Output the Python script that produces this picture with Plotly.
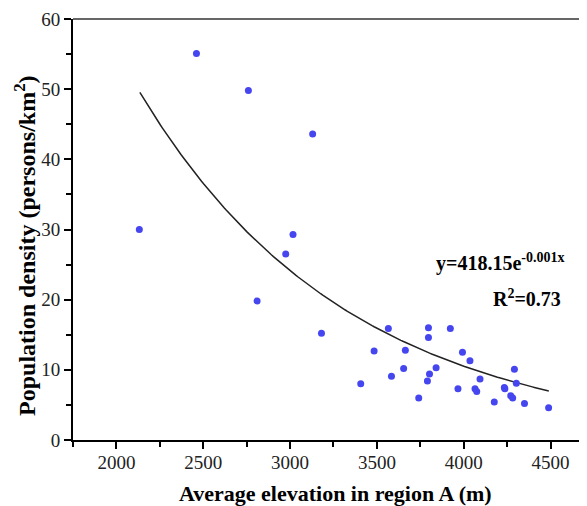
import plotly.graph_objects as go
import numpy as np

elevation = [2132, 2461, 2760, 3130, 3017, 2975, 2810, 3181,
             3566, 3484, 3664, 3654, 3584, 3407, 3797, 3797, 3923, 3841,
             3803, 3791, 3741, 3993, 4036, 3967, 4065, 4075, 4094, 4176,
             4234, 4237, 4292, 4303, 4271, 4282, 4350, 4489]
density = [30.0, 55.1, 49.8, 43.6, 29.3, 26.5, 19.8, 15.2,
           15.9, 12.7, 12.8, 10.2, 9.1, 8.0, 16.0, 14.6, 15.9, 10.3,
           9.4, 8.4, 6.0, 12.5, 11.3, 7.3, 7.3, 6.9, 8.7, 5.4,
           7.5, 7.3, 10.1, 8.1, 6.3, 6.0, 5.2, 4.6]

# Fitted exponential trend (as drawn): y = a * exp(-b x)
trend_params = [292.0, 0.000831]
trend_x_range = [2135, 4490]

x_ticks = [2000, 2500, 3000, 3500, 4000, 4500]
y_ticks = [0, 10, 20, 30, 40, 50, 60]

tx = np.linspace(trend_x_range[0], trend_x_range[1], 200)
ty = trend_params[0] * np.exp(-trend_params[1] * tx)

font_family = "Liberation Serif, Times New Roman, serif"

fig = go.Figure()
fig.add_trace(go.Scatter(x=tx, y=ty, mode="lines",
                         line=dict(color="#222222", width=1.5),
                         showlegend=False, hoverinfo="skip"))
fig.add_trace(go.Scatter(x=elevation, y=density, mode="markers",
                         marker=dict(color="#4646F0", size=7),
                         showlegend=False))

fig.add_annotation(x=4210, y=25.3, xref="x", yref="y",
                   text="<b>y=418.15e<sup>-0.001x</sup></b>",
                   showarrow=False, font=dict(family=font_family, size=20, color="black"))
fig.add_annotation(x=4365, y=20.2, xref="x", yref="y",
                   text="<b>R<sup>2</sup>=0.73</b>",
                   showarrow=False, font=dict(family=font_family, size=20, color="black"))

# axis titles
fig.add_annotation(x=0.51, y=0, xref="paper", yref="paper", yanchor="middle",
                   xanchor="center", yshift=-53, showarrow=False, borderpad=0,
                   text="<b>Average elevation in region A (m)</b>",
                   font=dict(family=font_family, size=22, color="black"))
fig.add_annotation(x=0, y=0.461, xref="paper", yref="paper", xanchor="center",
                   yanchor="middle", xshift=-48, textangle=-90, showarrow=False,
                   text="<b>Population density (persons/km<sup>2</sup>)</b>",
                   font=dict(family=font_family, size=24, color="black"))

fig.add_shape(type="line", xref="paper", yref="paper", x0=0, x1=1, y0=1, y1=1,
              line=dict(color="#666666", width=2))

fig.update_xaxes(range=[1750, 4710], tickvals=x_ticks, ticks="outside", ticklen=7,
                 tickwidth=1.5, tickcolor="black",
                 showline=True, linecolor="black", linewidth=2, showgrid=False,
                 zeroline=False, ticklabelstandoff=-3,
                 minor=dict(dtick=250, tick0=1750, ticks="outside", ticklen=5,
                            tickwidth=1.5, tickcolor="black", showgrid=False),
                 tickfont=dict(family=font_family, size=19, color="#222222"))
fig.update_yaxes(range=[0, 60], tickvals=y_ticks, ticks="outside", ticklen=7,
                 tickwidth=1.5, tickcolor="black",
                 showline=True, linecolor="black", linewidth=2, showgrid=False,
                 zeroline=False,
                 minor=dict(dtick=5, tick0=0, ticks="outside", ticklen=5,
                            tickwidth=1.5, tickcolor="black", showgrid=False),
                 tickfont=dict(family=font_family, size=19, color="#222222"))

# the page adds an 8 px body margin, so the figure is sized to fill the rest
fig.update_layout(width=579, height=498,
                  margin=dict(l=65, r=0, t=11, b=66, autoexpand=False),
                  plot_bgcolor="white", paper_bgcolor="white")

fig.write_html("out.html")
